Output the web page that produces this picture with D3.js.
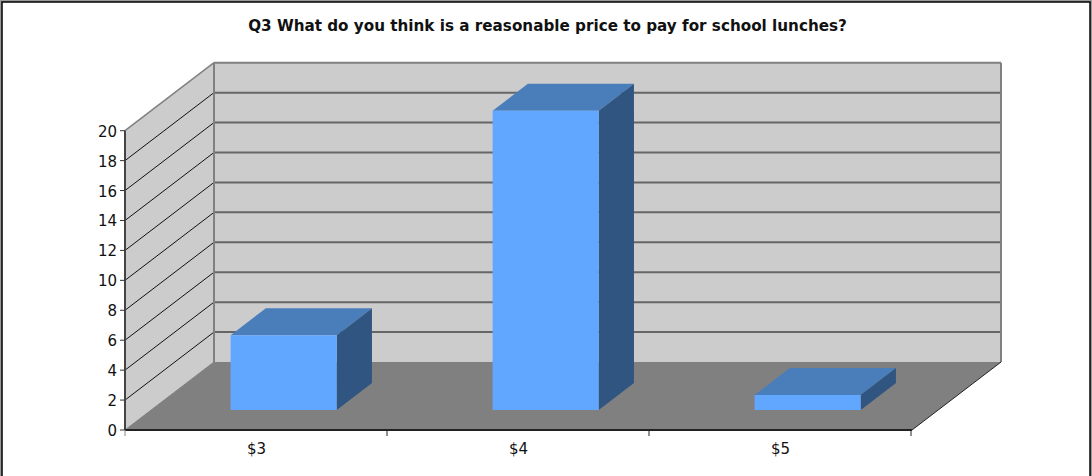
<!DOCTYPE html>
<html><head><meta charset="utf-8">
<script src="https://d3js.org/d3.v7.min.js"></script>
<style>html,body{margin:0;padding:0;background:#fff}svg{display:block}text{font-family:"DejaVu Sans",sans-serif;fill:#111}</style>
</head><body><svg id="c" width="1092" height="476"></svg>
<script>
const title = "Q3 What do you think is a reasonable price to pay for school lunches?";
const categories = ["$3", "$4", "$5"];
const values = [5, 20, 1];
const yTicks = [0, 2, 4, 6, 8, 10, 12, 14, 16, 18, 20];

const W = 1092, H = 476;
const svg = d3.select("#c");
const y = d3.scaleLinear().domain([0, 20]).range([430, 130.7]);
const x = d3.scaleBand().domain(categories).range([126.5, 912.5]).paddingInner(0.595).paddingOuter(0.2975);
const dx = d3.scaleLinear().domain([0, 1]).range([0, 89]);
const dy = d3.scaleLinear().domain([0, 1]).range([0, -68]);
const yMax = 20, Z0 = 0.294, Z1 = 0.69;
const P = (px, v, z) => [px + dx(z), y(v) + dy(z)];
const poly = (pts, fill, stroke, sw) => svg.append("polygon")
  .attr("points", pts.map(p => p.join(",")).join(" "))
  .attr("fill", fill).attr("stroke", stroke || "none").attr("stroke-width", sw || 0);
const line = (a, b, stroke, sw) => svg.append("line")
  .attr("x1", a[0]).attr("y1", a[1]).attr("x2", b[0]).attr("y2", b[1])
  .attr("stroke", stroke).attr("stroke-width", sw);

// frame
svg.append("rect").attr("x", 0).attr("y", 0).attr("width", W).attr("height", H + 4).attr("fill", "#9a9a9a");
svg.append("rect").attr("x", 2).attr("y", 2).attr("width", W - 4).attr("height", H + 4)
  .attr("fill", "#fff").attr("stroke", "#000").attr("stroke-width", 1.5);

const xL = 125, xR = 912;
// back wall and side wall
poly([P(xL, yMax, 1), P(xR, yMax, 1), P(xR, 0, 1), P(xL, 0, 1)], "#cccccc");
poly([P(xL, yMax, 0), P(xL, yMax, 1), P(xL, 0, 1), P(xL, 0, 0)], "#cccccc");
// floor
poly([P(xL, 0, 0), P(xL, 0, 1), P(xR, 0, 1), P(xR, 0, 0)], "#808080");

// gridlines
yTicks.filter(v => v > 0 && v < 20).forEach(v => {
  line(P(xL, v, 0), P(xL, v, 1), "#111", 1);
  line(P(xL, v, 1), P(xR, v, 1), "#666", 2);
});
// wall borders
line(P(xL, yMax, 0), P(xL, yMax, 1), "#808080", 1.5);
line(P(xL, yMax, 1), P(xR, yMax, 1), "#808080", 2);
line(P(xL, yMax, 1), P(xL, 0, 1), "#808080", 2);
line(P(xR, yMax, 1), P(xR, 0, 1), "#808080", 2);
line(P(xL, 0, 0), P(xL, 0, 1), "#808080", 1);
line(P(xR, 0, 0), P(xR, 0, 1), "#222", 1);

// bars
categories.forEach((c, i) => {
  const l = x(c), r = l + x.bandwidth(), v = values[i];
  poly([P(l, v, Z0), P(r, v, Z0), P(r, v, Z1), P(l, v, Z1)], "#4a7ebb");
  poly([P(r, 0, Z0), P(r, 0, Z1), P(r, v, Z1), P(r, v, Z0)], "#2f5580");
  poly([P(l, 0, Z0), P(r, 0, Z0), P(r, v, Z0), P(l, v, Z0)], "#62a7ff");
});

// axes
line([xL, y(20)], [xL, y(0)], "#444", 2);
line([xL, y(0)], [xR, y(0)], "#222", 2);
yTicks.forEach(v => {
  line([xL - 5, y(v)], [xL, y(v)], "#333", 1);
  svg.append("text").attr("x", xL - 8).attr("y", y(v) + 0.6).attr("dy", "0.36em")
    .attr("text-anchor", "end").attr("font-size", 15).text(v);
});
d3.range(categories.length + 1).forEach(i => {
  const tx = x.step() * i + xL;
  line([tx, y(0)], [tx, y(0) + 6], i ? "#222" : "#888", 1);
});
categories.forEach(c => {
  svg.append("text").attr("x", x(c) + x.bandwidth() / 2 - 1).attr("y", 454)
    .attr("text-anchor", "middle").attr("font-size", 15).text(c);
});
svg.append("text").attr("x", 547.5).attr("y", 31).attr("text-anchor", "middle")
  .attr("font-size", 15.2).attr("font-weight", "bold").text(title);
</script></body></html>
